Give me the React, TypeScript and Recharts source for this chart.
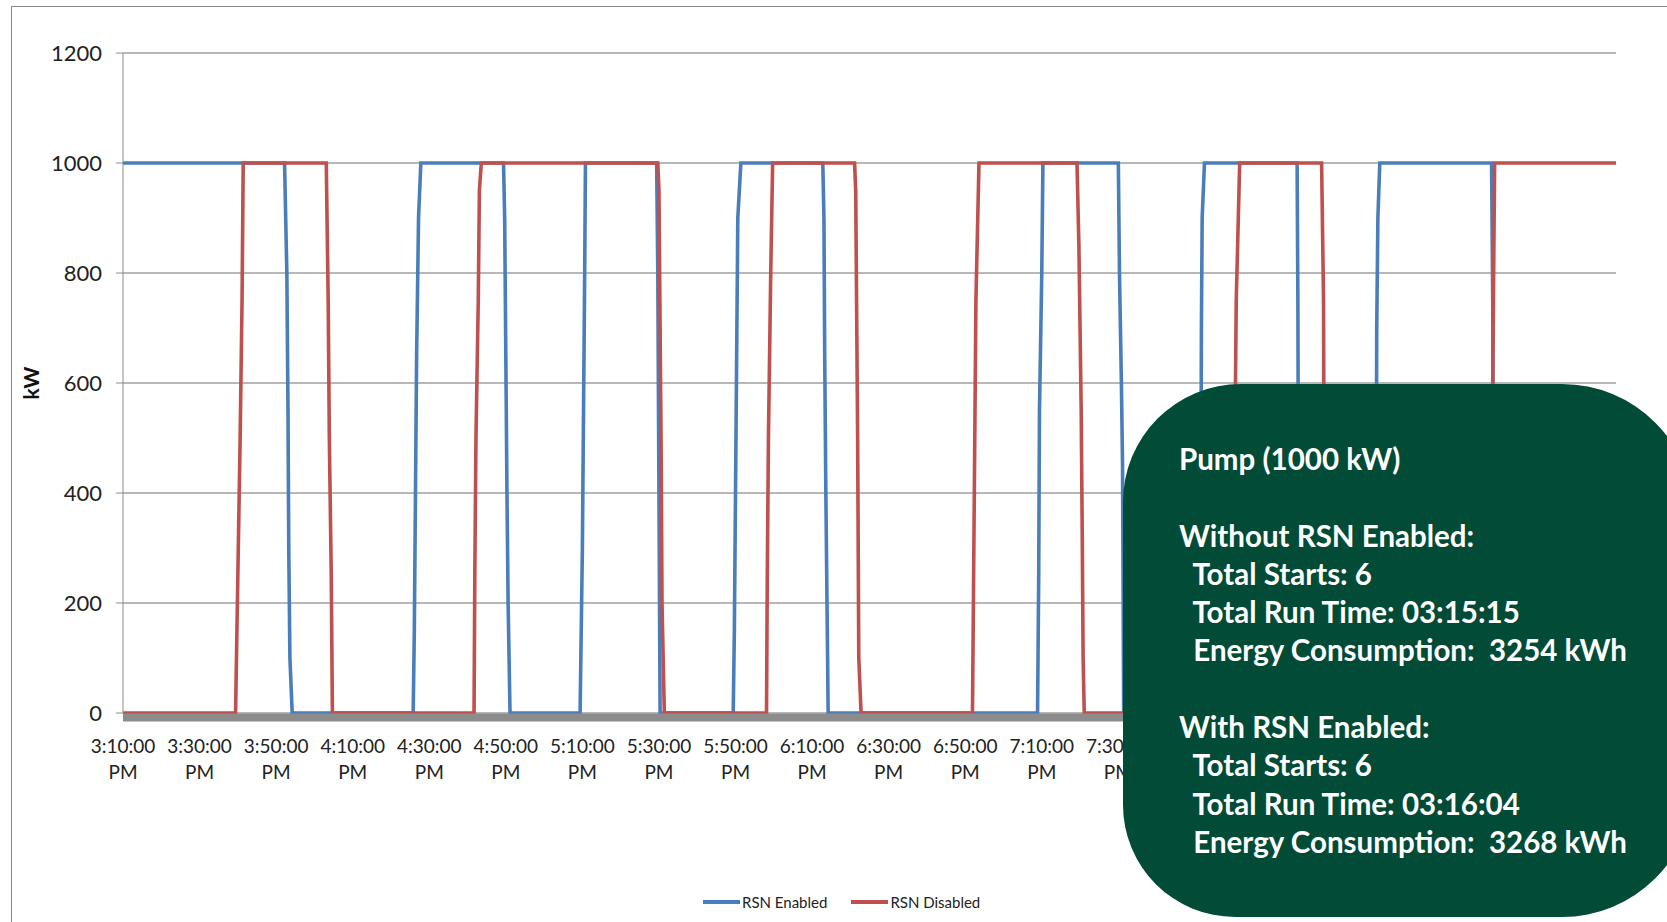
import { LineChart, Line, XAxis, YAxis, CartesianGrid, Legend } from 'recharts';

// minutes after 3:10 PM, kW
const enabledMin = [0, 42.2, 42.8, 43.1, 43.3, 43.6, 44.2, 75.8, 76.1, 76.4, 76.7, 77.2, 77.8, 99.4, 99.7, 100.0, 100.3, 100.6, 101.1, 119.4, 120.0, 120.3, 120.6, 120.8, 139.4, 139.7, 140.0, 140.3, 159.4, 159.7, 160.0, 160.3, 160.6, 161.4, 182.8, 183.1, 183.3, 183.6, 183.9, 184.2, 238.9, 239.2, 239.4, 240.0, 240.3, 260.0, 260.3, 260.8, 261.1, 261.4, 281.4, 281.7, 281.9, 282.5, 306.7, 306.9, 307.2, 327.2, 327.5, 327.8, 328.3, 357.5, 357.8, 358.1, 390];
const enabledKw = [1000, 1000, 800, 550, 300, 100, 0, 0, 150, 400, 650, 900, 1000, 1000, 900, 650, 400, 200, 0, 0, 300, 550, 800, 1000, 1000, 800, 400, 0, 0, 150, 400, 650, 900, 1000, 1000, 900, 650, 400, 200, 0, 0, 250, 550, 800, 1000, 1000, 800, 600, 450, 0, 0, 700, 900, 1000, 1000, 750, 0, 0, 700, 900, 1000, 1000, 750, 0, 0];

const disabledMin = [0, 29.4, 30.0, 30.6, 31.1, 31.4, 53.1, 53.6, 53.9, 54.4, 54.7, 91.7, 91.9, 92.2, 92.8, 93.1, 93.6, 139.7, 140.0, 140.6, 140.8, 141.4, 168.1, 168.3, 168.6, 169.2, 169.7, 191.1, 191.4, 191.9, 192.2, 192.8, 221.9, 222.2, 222.8, 223.6, 249.2, 249.7, 250.3, 250.6, 250.8, 251.1, 290.3, 290.6, 290.8, 291.7, 313.1, 313.6, 313.9, 357.5, 357.8, 358.1, 358.3, 390];
const disabledKw = [0, 0, 250, 500, 750, 1000, 1000, 750, 500, 250, 0, 0, 250, 500, 750, 950, 1000, 1000, 950, 450, 200, 0, 0, 250, 500, 800, 1000, 1000, 950, 500, 100, 0, 0, 250, 750, 1000, 1000, 850, 550, 300, 100, 0, 0, 600, 750, 1000, 1000, 750, 0, 0, 600, 850, 1000, 1000];

// labels past 7:30 sit under the summary box
const xTicks = [0, 20, 40, 60, 80, 100, 120, 140, 160, 180, 200, 220, 240, 260];
const xTickLabels = ['3:10:00 PM', '3:30:00 PM', '3:50:00 PM', '4:10:00 PM', '4:30:00 PM', '4:50:00 PM', '5:10:00 PM', '5:30:00 PM', '5:50:00 PM', '6:10:00 PM', '6:30:00 PM', '6:50:00 PM', '7:10:00 PM', '7:30:00 PM'];
const yTicks = [0, 200, 400, 600, 800, 1000, 1200];

const seriesNames = ['RSN Enabled', 'RSN Disabled'];

const boxLines = [
  'Pump (1000 kW)',
  '',
  'Without RSN Enabled:',
  '  Total Starts: 6',
  '  Total Run Time: 03:15:15',
  '  Energy Consumption:  3254 kWh',
  '',
  'With RSN Enabled:',
  '  Total Starts: 6',
  '  Total Run Time: 03:16:04',
  '  Energy Consumption:  3268 kWh',
];

const enabledData = enabledMin.map((t, i) => ({ t, kw: enabledKw[i] }));
const disabledData = disabledMin.map((t, i) => ({ t, kw: disabledKw[i] }));

const FONT = 'Lato, "Open Sans", sans-serif';
const BLUE = '#4A7EBB';
const RED = '#C0504D';

const TimeTick = ({ x, y, payload }: any) => {
  const idx = xTicks.indexOf(payload.value);
  const [time, ampm] = (xTickLabels[idx] || '').split(' ');
  return (
    <g transform={`translate(${x},${y})`}>
      <text textAnchor="middle" fill="#222" fontSize={19} fontFamily={FONT}>
        <tspan x={0} y={40}>{time}</tspan>
        <tspan x={0} y={66}>{ampm}</tspan>
      </text>
    </g>
  );
};

const KwLabel = ({ viewBox }: any) => {
  const cy = viewBox ? viewBox.y + viewBox.height / 2 : 383;
  return (
    <text x={30} y={cy} transform={`rotate(-90, 30, ${cy})`} textAnchor="middle" dominantBaseline="central" fill="#111" fontSize={21} fontWeight={700} fontFamily={FONT}>
      kW
    </text>
  );
};

const LegendContent = ({ payload }: any) => {
  const items = [...(payload || [])].sort((a: any, b: any) => seriesNames.indexOf(a.value) - seriesNames.indexOf(b.value));
  return (
    <div style={{ display: 'flex', alignItems: 'center', fontFamily: FONT, fontSize: 15, lineHeight: '18px', color: '#222' }}>
      {items.map((p: any) => (
        <span key={p.value} style={{ display: 'flex', alignItems: 'center', marginRight: 24 }}>
          <span style={{ display: 'inline-block', width: 37, height: 4, background: p.color, marginRight: 2 }} />
          {p.value}
        </span>
      ))}
    </div>
  );
};

export default function App() {
  return (
    <div style={{ position: 'fixed', left: 0, top: 0, width: 1667, height: 922, overflow: 'hidden', background: '#fff' }}>
      <div style={{ position: 'absolute', left: 11, top: 6, width: 1720, height: 960, border: '1.5px solid #8a8a8a' }} />
      <div style={{ position: 'absolute', left: 0, top: 0 }}>
        <LineChart width={1667} height={922} margin={{ top: 53, right: 51, bottom: 149, left: 63 }}>
          <CartesianGrid horizontal vertical={false} stroke="#a0a0a0" strokeWidth={1.3} />
          <XAxis
            dataKey="t"
            type="number"
            domain={[0, 390]}
            ticks={xTicks}
            interval={0}
            height={60}
            tickSize={0}
            tickMargin={0}
            tickLine={false}
            axisLine={{ stroke: '#8c8c8c', strokeWidth: 8, transform: 'translate(0,4.5)' }}
            tick={<TimeTick />}
            allowDuplicatedCategory={false}
          />
          <YAxis
            type="number"
            domain={[0, 1200]}
            ticks={yTicks}
            interval={0}
            width={60}
            tickSize={7}
            tickMargin={14}
            axisLine={{ stroke: '#8a8a8a' }}
            tickLine={{ stroke: '#8a8a8a' }}
            tick={{ fill: '#222', fontSize: 22, fontFamily: FONT }}
            label={<KwLabel />}
          />
          <Legend
            layout="vertical"
            verticalAlign="middle"
            align="center"
            wrapperStyle={{ top: 893, left: 703, width: 'auto' }}
            content={<LegendContent />}
          />
          <Line data={enabledData} dataKey="kw" name="RSN Enabled" type="linear" stroke={BLUE} strokeWidth={3.6} dot={false} activeDot={false} isAnimationActive={false} />
          <Line data={disabledData} dataKey="kw" name="RSN Disabled" type="linear" stroke={RED} strokeWidth={3.6} dot={false} activeDot={false} isAnimationActive={false} />
        </LineChart>
      </div>
      <div
        style={{
          position: 'absolute',
          left: 1123,
          top: 384,
          width: 571,
          height: 533,
          borderRadius: '118px 132px 132px 112px',
          background: '#014B37',
          color: '#fff',
          fontFamily: FONT,
          fontWeight: 700,
          fontSize: 29.5,
          boxSizing: 'border-box',
          padding: '56px 0 0 56px',
        }}
      >
        {boxLines.map((l, i) => (
          <div key={i} style={{ height: 38.3, lineHeight: '38.3px', whiteSpace: 'pre' }}>{l}</div>
        ))}
      </div>
    </div>
  );
}
